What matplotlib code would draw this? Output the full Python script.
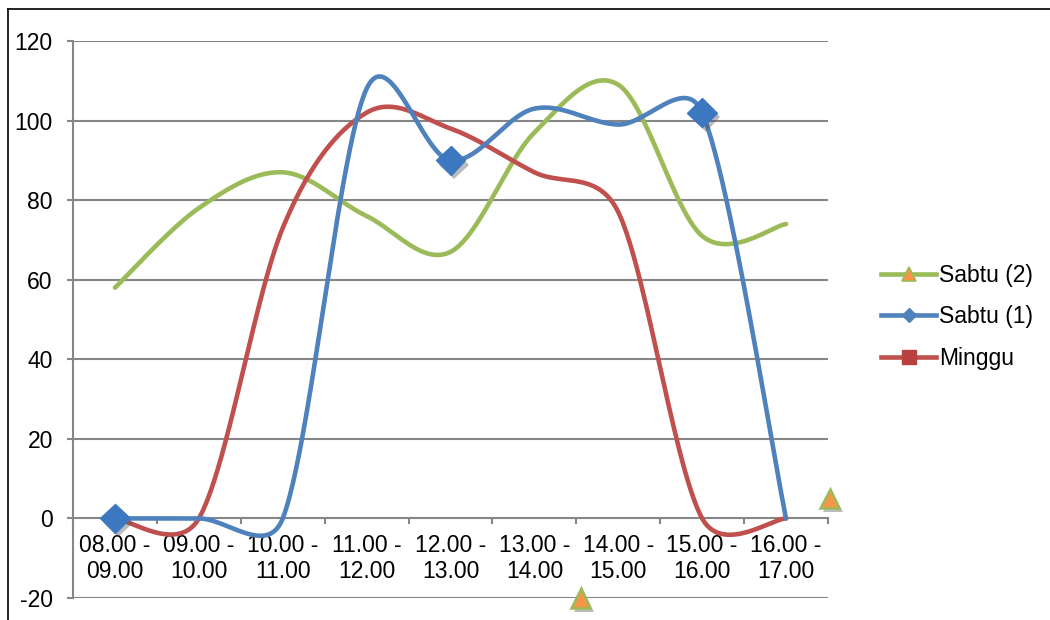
import numpy as np
import matplotlib
matplotlib.use("Agg")
import matplotlib.pyplot as plt
import matplotlib.patheffects as pe
from matplotlib.lines import Line2D

plt.rcParams['font.family'] = ['Liberation Sans', 'DejaVu Sans']
plt.rcParams['axes.unicode_minus'] = False

categories = ["08.00 -\n09.00", "09.00 -\n10.00", "10.00 -\n11.00", "11.00 -\n12.00",
              "12.00 -\n13.00", "13.00 -\n14.00", "14.00 -\n15.00", "15.00 -\n16.00",
              "16.00 -\n17.00"]
sabtu2 = [58, 78, 87, 76, 67, 97, 109, 71, 74]
sabtu1 = [0, 0, 0, 108, 90, 103, 99, 102, 0]
minggu = [0, 0, 73, 102, 98, 87, 77, 0, 0]

# markers visible in the reference
sabtu1_marker_idx = [0, 4, 7]
sabtu2_stray_x = [5.55, 8.52]
sabtu2_stray_y = [-20, 5]

GREEN = "#9BBB59"
BLUE = "#4F81BD"
RED = "#C0504D"
ORANGE = "#F79646"
GRID = "#868686"
FS = 16.5

fig = plt.figure(figsize=(10.5, 6.2), dpi=100)
ax = fig.add_axes([73 / 1050, 22 / 620, (828 - 73) / 1050, (598 - 41) / 620])

n = len(categories)
ax.set_xlim(-0.5, n - 0.5)
ax.set_ylim(-20, 120)


def smooth(y, n_pts=50):
    """Excel-like smoothed line: cubic Bezier, tangent/6 capped at half segment (in pixels)."""
    x = np.arange(len(y), dtype=float)
    P = ax.transData.transform(np.column_stack([x, np.asarray(y, float)]))
    out = []
    m = len(P)
    for i in range(m - 1):
        p1, p2 = P[i], P[i + 1]
        p0 = P[i - 1] if i > 0 else p1
        p3 = P[i + 2] if i + 2 < m else p2
        seg = np.linalg.norm(p2 - p1)
        t1 = (p2 - p0) / 6.0
        t2 = (p3 - p1) / 6.0
        for t in (t1, t2):
            L = np.linalg.norm(t)
            if L > seg / 2 and L > 0:
                t *= (seg / 2) / L
        c1 = p1 + t1
        c2 = p2 - t2
        t = np.linspace(0, 1, n_pts)[:, None]
        pts = ((1 - t) ** 3) * p1 + 3 * ((1 - t) ** 2) * t * c1 + 3 * (1 - t) * t ** 2 * c2 + t ** 3 * p2
        out.append(pts)
    pts = np.vstack(out)
    d = ax.transData.inverted().transform(pts)
    return d[:, 0], d[:, 1]


ax.set_yticks(np.arange(-20, 121, 20))
for v in np.arange(-20, 121, 20):
    if v != 0:
        ax.axhline(v, color=GRID, lw=1.5, zorder=1)

for s in ['top', 'right']:
    ax.spines[s].set_visible(False)
ax.spines['left'].set_color(GRID)
ax.spines['left'].set_linewidth(1.5)
ax.spines['bottom'].set_position(('data', 0))
ax.spines['bottom'].set_color(GRID)
ax.spines['bottom'].set_linewidth(1.5)
ax.spines['bottom'].set_zorder(1)

ax.set_xticks(np.arange(-0.5, n, 1.0))
ax.set_xticklabels([])
ax.set_xticks(np.arange(n), minor=True)
ax.set_xticklabels(categories, minor=True, fontsize=FS, linespacing=1.2)
ax.tick_params(axis='x', which='major', direction='out', length=4.5, width=1.5, color=GRID)
ax.tick_params(axis='x', which='minor', length=0, pad=11)
ax.tick_params(axis='y', direction='out', length=4.5, width=1.5, color=GRID, labelsize=FS, pad=10)

shadow = [pe.SimplePatchShadow(offset=(2.5, -3), shadow_rgbFace='#555555', alpha=0.4), pe.Normal()]

xs, ys = smooth(sabtu2)
ax.plot(xs, ys, color=GREEN, lw=3.3, zorder=3, solid_capstyle='round')
xs, ys = smooth(sabtu1)
ax.plot(xs, ys, color=BLUE, lw=3.3, zorder=4, solid_capstyle='round')
xs, ys = smooth(minggu)
ax.plot(xs, ys, color=RED, lw=3.3, zorder=3.5, solid_capstyle='round')

ax.plot(sabtu1_marker_idx, [sabtu1[i] for i in sabtu1_marker_idx], ls='none', marker='D',
        ms=15, mfc='#3C78C0', mec='#3C78C0', zorder=5, path_effects=shadow, clip_on=False)
ax.plot(sabtu2_stray_x, sabtu2_stray_y, ls='none', marker='^', ms=14, mfc=ORANGE,
        mec=GREEN, mew=1.8, zorder=5, path_effects=shadow, clip_on=False)

handles = [
    Line2D([], [], color=GREEN, lw=3.3, marker='^', ms=10, mfc=ORANGE, mec=GREEN, mew=1.2),
    Line2D([], [], color=BLUE, lw=3.3, marker='D', ms=7, mfc=BLUE, mec=BLUE),
    Line2D([], [], color=RED, lw=3.3, marker='s', ms=10, mfc='#B8403D', mec='#B8403D'),
]
fig.legend(handles, ["Sabtu (2)", "Sabtu (1)", "Minggu"], loc='center left',
           bbox_to_anchor=(881 / 1050, 1 - 317 / 620), frameon=False, fontsize=FS,
           handlelength=2.4, handletextpad=0.12, labelspacing=0.82, borderaxespad=0,
           borderpad=0)

fig.add_artist(Line2D([8 / 1050, 8 / 1050], [0, 1 - 9 / 620], color='black', lw=1.2,
                      transform=fig.transFigure))
fig.add_artist(Line2D([8 / 1050, 1], [1 - 9 / 620, 1 - 9 / 620], color='black', lw=1.2,
                      transform=fig.transFigure))

fig.savefig("out.png", dpi=100)
